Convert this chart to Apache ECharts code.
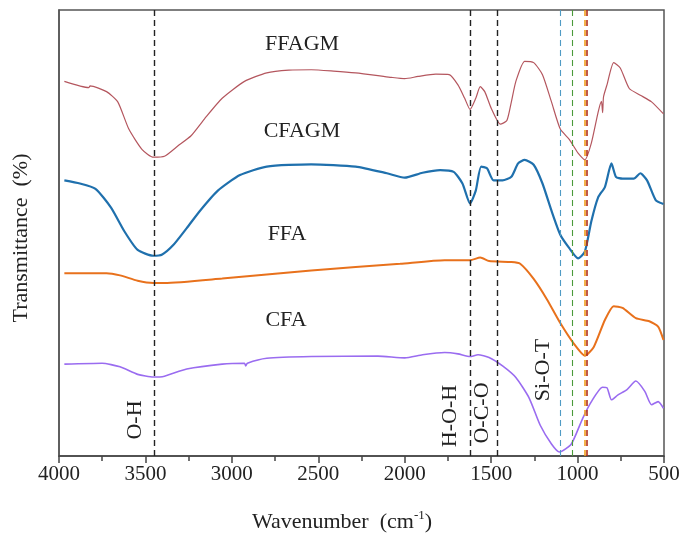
<!DOCTYPE html>
<html>
<head>
<meta charset="utf-8">
<script src="https://cdn.jsdelivr.net/npm/echarts@6/dist/echarts.min.js"></script>
<style>
  html, body { margin: 0; padding: 0; background: #fff; }
  #main { width: 698px; height: 533px; }
</style>
</head>
<body>
<div id="main"></div>
<script>
// [wavenumber, transmittance offset]
var ffagm = [[3969,84.0],[3828,82.6],[3820,83.0],[3725,81.7],[3660,79.4],[3596,73.3],[3519,68.7],[3454,67.0],[3390,67.2],[3313,69.5],[3236,71.8],[3158,75.6],[3056,80.2],[2927,84.0],[2798,85.9],[2670,86.5],[2541,86.6],[2412,86.3],[2284,85.9],[2155,85.3],[2078,84.9],[2000,84.6],[1923,85.1],[1820,85.6],[1743,85.5],[1692,83.2],[1653,80.2],[1622,77.7],[1589,80.2],[1563,82.8],[1537,81.7],[1499,77.9],[1447,74.4],[1409,75.2],[1383,79.4],[1357,84.0],[1306,88.5],[1254,88.2],[1203,85.5],[1151,79.4],[1100,73.3],[1048,71.0],[997,67.9],[958,66.4],[920,70.2],[881,77.1],[862,79.5],[855,77.0],[850,80.5],[830,83.2],[791,88.2],[753,87.0],[701,82.4],[637,80.9],[572,79.4],[503,76.7]];
var cfagm = [[3969,61.8],[3879,61.1],[3789,59.9],[3699,55.7],[3622,50.4],[3545,46.2],[3454,44.9],[3403,45.2],[3339,47.3],[3261,51.1],[3184,55.0],[3081,59.5],[2953,63.0],[2798,64.9],[2541,65.4],[2284,64.9],[2103,63.4],[2000,62.4],[1897,63.5],[1795,64.1],[1717,63.7],[1666,61.1],[1622,56.6],[1589,59.5],[1558,64.9],[1524,64.5],[1486,61.8],[1434,61.8],[1383,62.6],[1344,65.6],[1306,66.4],[1254,65.3],[1203,61.1],[1151,55.0],[1100,49.6],[1048,46.6],[997,44.3],[958,45.8],[920,52.7],[881,58.0],[842,60.3],[804,65.6],[778,62.6],[740,62.2],[675,62.2],[637,63.4],[598,61.8],[547,57.3],[503,56.5]];
var ffa = [[3969,41.0],[3725,41.0],[3647,40.5],[3545,39.3],[3454,38.8],[3390,38.8],[3056,39.8],[2541,41.6],[2026,43.1],[1769,43.9],[1622,43.9],[1563,44.5],[1512,43.7],[1383,43.5],[1332,43.1],[1254,39.7],[1177,35.1],[1100,29.8],[1022,25.2],[958,22.5],[907,24.4],[842,30.5],[791,33.6],[740,33.2],[663,30.9],[585,30.2],[534,29.0],[503,26.0]];
var cfa = [[3969,20.6],[3751,20.8],[3647,20.0],[3545,18.3],[3454,17.7],[3390,17.9],[3261,19.5],[3056,20.6],[2927,20.8],[2920,20.2],[2910,20.8],[2798,21.9],[2541,22.3],[2155,22.4],[2000,22.0],[1897,22.7],[1769,23.2],[1692,22.9],[1622,22.3],[1576,22.7],[1512,22.1],[1434,20.2],[1357,17.6],[1280,13.0],[1216,6.9],[1151,2.7],[1105,0.9],[1036,2.7],[971,8.4],[920,12.2],[856,15.4],[830,15.3],[804,12.6],[766,13.7],[714,14.9],[663,16.8],[611,14.5],[572,11.5],[534,12.2],[503,10.7]];

var seriesNames = ['FFAGM', 'CFAGM', 'FFA', 'CFA'];
var seriesColors = ['#b4565e', '#1f70ad', '#e8711c', '#9a6cf0'];
var seriesWidths = [1.2, 2.2, 2, 1.6];

var bandPositions = [3450, 1622, 1462, 1102, 1028, 957, 947];
var bandColors = ['#222', '#222', '#222', '#4f9bc4', '#4a9a3a', '#f0a020', '#b03020'];
var bandWidths = [1.4, 1.4, 1.4, 1.1, 1.1, 1.6, 1.6];
var bandLabels = ['O-H', 'H-O-H', 'O-C-O', 'Si-O-T'];

var xTicks = [500, 4000, 500];  // min, max, interval

var font = 'Liberation Serif, Times New Roman, serif';
var myChart = echarts.init(document.getElementById('main'));

var dataSets = [ffagm, cfagm, ffa, cfa];
var series = dataSets.map(function (d, i) {
    return {
        name: seriesNames[i],
        type: 'line',
        data: d,
        showSymbol: false,
        smooth: 0.2,
        lineStyle: { color: seriesColors[i], width: seriesWidths[i] },
        z: 3
    };
});
series.push({
    type: 'line',
    data: [],
    markLine: {
        silent: true,
        symbol: ['none', 'none'],
        label: { show: false },
        data: bandPositions.map(function (x, i) {
            return { xAxis: x, lineStyle: { color: bandColors[i], width: bandWidths[i], type: [6, 4] } };
        })
    },
    z: 2
});

var option = {
    animation: false,
    backgroundColor: '#fff',
    grid: {
        left: 59, right: 34, top: 10, bottom: 77,
        show: true, borderColor: '#555', borderWidth: 1.5
    },
    xAxis: {
        type: 'value',
        inverse: true,
        min: xTicks[0], max: xTicks[1], interval: xTicks[2],
        axisLine: { show: true, lineStyle: { color: '#444', width: 1.5 } },
        axisTick: { show: true, inside: false, length: 7, lineStyle: { color: '#444', width: 1.5 } },
        minorTick: { show: true, splitNumber: 2, length: 5, lineStyle: { color: '#444', width: 1.5 } },
        axisLabel: { fontFamily: font, fontSize: 21, color: '#222', margin: 8,
            formatter: function (v) { return String(v); } },
        splitLine: { show: false }
    },
    yAxis: {
        type: 'value',
        min: 0, max: 100,
        axisLine: { show: true, lineStyle: { color: '#555', width: 1.5 } },
        axisTick: { show: false },
        axisLabel: { show: false },
        splitLine: { show: false }
    },
    series: series,
    graphic: []
};

myChart.setOption(option);

var g = [];
// curve names
var namePos = [[302, 44], [302, 131], [287, 234], [286, 320]];
seriesNames.forEach(function (n, i) {
    g.push({ type: 'text', x: namePos[i][0], y: namePos[i][1], silent: true,
        style: { text: n, fontFamily: font, fontSize: 22, fill: '#222', align: 'center', verticalAlign: 'middle' } });
});
// band labels, rotated
var labelPos = [[135, 420], [450, 416], [482, 413], [543, 370]];
bandLabels.forEach(function (n, i) {
    g.push({ type: 'text', x: labelPos[i][0], y: labelPos[i][1], rotation: Math.PI / 2, silent: true,
        style: { text: n, fontFamily: font, fontSize: 22, fill: '#222', align: 'center', verticalAlign: 'middle' } });
});
// axis titles
g.push({ type: 'text', x: 342, y: 522, silent: true,
    style: { text: 'Wavenumber  (cm{s|-1})', fontFamily: font, fontSize: 22, fill: '#222', align: 'center', verticalAlign: 'middle',
        rich: { s: { fontFamily: font, fontSize: 13, fill: '#222', padding: [0, 0, 12, 0] } } } });
g.push({ type: 'text', x: 21, y: 238, rotation: Math.PI / 2, silent: true,
    style: { text: 'Transmittance  (%)', fontFamily: font, fontSize: 22, fill: '#222', align: 'center', verticalAlign: 'middle' } });

myChart.setOption({ graphic: g });
</script>
</body>
</html>
